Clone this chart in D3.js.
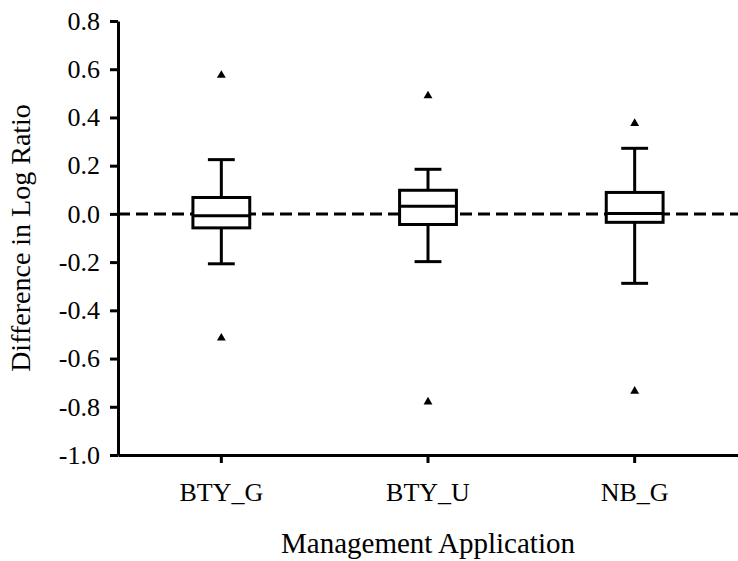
<!DOCTYPE html>
<html>
<head>
<meta charset="utf-8">
<script src="https://cdn.jsdelivr.net/npm/d3@7"></script>
<style>
  body { margin: 0; background: #fff; }
</style>
</head>
<body>
<div id="chart"></div>
<script>
// box summaries
var categories = ['BTY_G', 'BTY_U', 'NB_G'];
var outHigh  = [0.575, 0.49, 0.375];
var whiskHigh = [0.225, 0.185, 0.272];
var q3 = [0.068, 0.098, 0.089];
var medians = [-0.008, 0.032, 0.002];
var q1 = [-0.058, -0.044, -0.035];
var whiskLow = [-0.207, -0.198, -0.288];
var outLow = [-0.515, -0.78, -0.735];
var yTicks = [-1.0, -0.8, -0.6, -0.4, -0.2, 0.0, 0.2, 0.4, 0.6, 0.8];

var width = 738, height = 561;
var margin = {top: 21, right: 0, bottom: 106, left: 118};
var serif = 'Liberation Serif';

var boxes = categories.map(function(c, i) {
    return {key: c, hi: whiskHigh[i], q3: q3[i], med: medians[i], q1: q1[i], lo: whiskLow[i],
            outliers: [outHigh[i], outLow[i]]};
});

var svg = d3.select('#chart').append('svg')
    .attr('width', width)
    .attr('height', height)
    .attr('font-family', serif);

var x = d3.scaleBand()
    .domain(categories)
    .range([margin.left, width - margin.right]);

var y = d3.scaleLinear()
    .domain([-1.0, 0.8])
    .range([height - margin.bottom, margin.top]);

// plain hyphen for negatives, like the original
var fmt = function(d) { return d3.format('.1f')(d).replace('\u2212', '-'); };

// reference line at zero
svg.append('line')
    .attr('x1', margin.left)
    .attr('x2', width - margin.right)
    .attr('y1', y(0))
    .attr('y2', y(0))
    .attr('stroke', '#000')
    .attr('stroke-width', 3)
    .attr('stroke-dasharray', '12,6');

var bw = x.bandwidth();
var boxW = bw * 0.275, capW = bw * 0.13;

var g = svg.selectAll('.box')
    .data(boxes)
    .enter().append('g')
    .attr('class', 'box')
    .attr('transform', function(d) { return 'translate(' + (x(d.key) + bw / 2) + ',0)'; });

g.append('line')
    .attr('y1', function(d) { return y(d.hi); })
    .attr('y2', function(d) { return y(d.lo); })
    .attr('stroke', '#000').attr('stroke-width', 3);

g.append('line')
    .attr('x1', -capW / 2).attr('x2', capW / 2)
    .attr('y1', function(d) { return y(d.hi); })
    .attr('y2', function(d) { return y(d.hi); })
    .attr('stroke', '#000').attr('stroke-width', 3);

g.append('line')
    .attr('x1', -capW / 2).attr('x2', capW / 2)
    .attr('y1', function(d) { return y(d.lo); })
    .attr('y2', function(d) { return y(d.lo); })
    .attr('stroke', '#000').attr('stroke-width', 3);

g.append('rect')
    .attr('x', -boxW / 2)
    .attr('width', boxW)
    .attr('y', function(d) { return y(d.q3); })
    .attr('height', function(d) { return y(d.q1) - y(d.q3); })
    .attr('fill', '#fff')
    .attr('stroke', '#000').attr('stroke-width', 3);

g.append('line')
    .attr('x1', -boxW / 2).attr('x2', boxW / 2)
    .attr('y1', function(d) { return y(d.med); })
    .attr('y2', function(d) { return y(d.med); })
    .attr('stroke', '#000').attr('stroke-width', 3);

g.selectAll('.outlier')
    .data(function(d) { return d.outliers; })
    .enter().append('path')
    .attr('class', 'outlier')
    .attr('d', d3.symbol().type(d3.symbolTriangle).size(34))
    .attr('transform', function(v) { return 'translate(0,' + y(v) + ')'; })
    .attr('fill', '#000');

// axes
var yAxis = svg.append('g')
    .attr('transform', 'translate(' + margin.left + ',0)')
    .call(d3.axisLeft(y).tickValues(yTicks).tickFormat(fmt).tickSize(8).tickSizeOuter(0).tickPadding(10));

var xAxis = svg.append('g')
    .attr('transform', 'translate(0,' + (height - margin.bottom) + ')')
    .call(d3.axisBottom(x).tickSize(8).tickSizeOuter(0).tickPadding(20));

[yAxis, xAxis].forEach(function(a) {
    a.attr('font-family', serif).attr('font-size', 26);
    a.select('.domain').attr('stroke-width', 3);
    a.selectAll('.tick line').attr('stroke-width', 3);
    a.selectAll('.tick text').attr('fill', '#000');
});

svg.append('text')
    .attr('transform', 'translate(30,' + y(-0.1) + ') rotate(-90)')
    .attr('text-anchor', 'middle')
    .attr('font-size', 28)
    .text('Difference in Log Ratio');

svg.append('text')
    .attr('x', (margin.left + width - margin.right) / 2)
    .attr('y', 553)
    .attr('text-anchor', 'middle')
    .attr('font-size', 29)
    .text('Management Application');
</script>
</body>
</html>
